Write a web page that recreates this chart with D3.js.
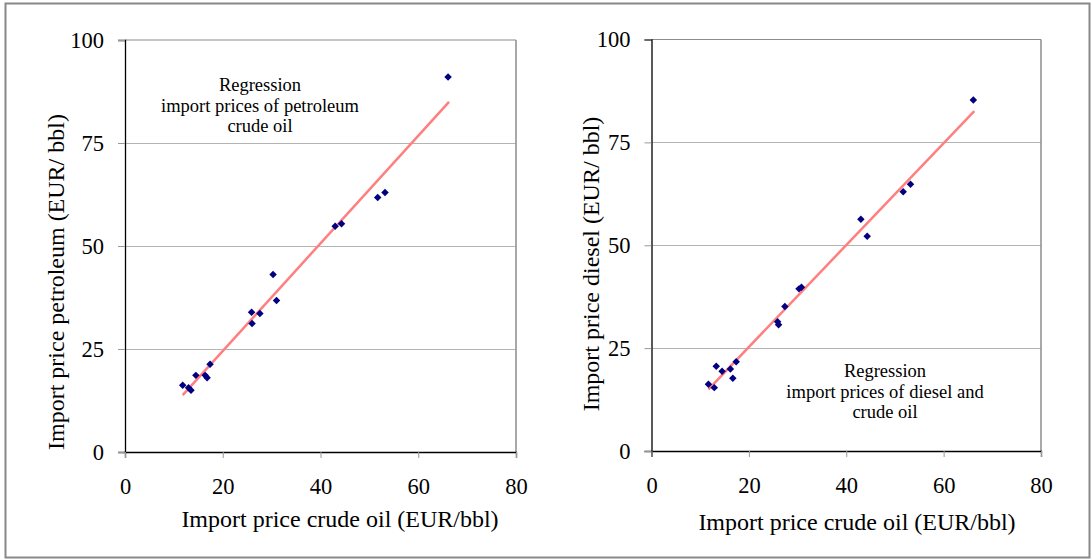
<!DOCTYPE html>
<html><head><meta charset="utf-8">
<script src="https://cdn.jsdelivr.net/npm/d3@7/dist/d3.min.js"></script>
<style>body{margin:0;background:#fff;} svg{display:block;} svg text{font-family:"Liberation Serif","Times New Roman",serif;fill:#000;}</style>
</head><body>
<svg id="c" width="1092" height="560"></svg>
<script>
// Data (EUR/bbl)
const crudeLeft  = [11.8, 13.0, 13.5, 14.5, 16.4, 16.8, 17.4, 25.9, 26.0, 27.6, 30.3, 31.0, 43.0, 44.3, 51.7, 53.2, 66.1];
const petroleum  = [16.2, 15.6, 15.0, 18.6, 18.6, 18.0, 21.3, 33.9, 31.2, 33.6, 43.1, 36.8, 54.8, 55.4, 61.8, 63.0, 91.0];
const crudeRight = [11.7, 12.9, 13.3, 14.5, 16.2, 16.7, 17.4, 25.9, 26.1, 27.4, 30.3, 30.8, 43.0, 44.3, 51.7, 53.2, 66.1];
const diesel     = [16.2, 15.4, 20.6, 19.4, 19.9, 17.7, 21.7, 31.4, 30.7, 35.1, 39.4, 39.8, 56.3, 52.2, 63.0, 64.8, 85.3];
const petroleumFitX = [11.8, 66.3];
const petroleumFitY = [13.8, 85.0];
const dieselFitX = [11.7, 66.3];
const dieselFitY = [15.0, 82.6];
const xTicks = [0, 20, 40, 60, 80];
const yTicks = [0, 25, 50, 75, 100];
const xTitle = "Import price crude oil (EUR/bbl)";
const yTitleLeft = "Import price petroleum (EUR/ bbl)";
const yTitleRight = "Import price diesel (EUR/ bbl)";
const noteLeft = ["Regression", "import prices of petroleum", "crude oil"];
const noteRight = ["Regression", "import prices of diesel and", "crude oil"];

const FONT = '"Liberation Serif","Times New Roman",serif';
const svg = d3.select("#c");
svg.append("rect").attr("x",5.5).attr("y",3.5).attr("width",1084).attr("height",554)
  .attr("fill","none").attr("stroke","#888").attr("stroke-width",2);

const panels = [
  {x0:125, x1:516, y0:452, y1:40, xs:crudeLeft, ys:petroleum, fx:petroleumFitX, fy:petroleumFitY,
   yTitle:yTitleLeft, yTitleX:56, yTitleY:282, xTitleX:340, xTitleY:527,
   note:noteLeft, noteX:260, noteY:91},
  {x0:651.5, x1:1041, y0:451, y1:39.5, xs:crudeRight, ys:diesel, fx:dieselFitX, fy:dieselFitY,
   yTitle:yTitleRight, yTitleX:591, yTitleY:264, xTitleX:857, xTitleY:530,
   note:noteRight, noteX:885, noteY:377}
];

panels.forEach(p => {
  const x = d3.scaleLinear().domain([0,80]).range([p.x0,p.x1]);
  const y = d3.scaleLinear().domain([0,100]).range([p.y0,p.y1]);
  const g = svg.append("g");
  g.selectAll("line.grid").data(yTicks.filter(t=>t>0 && t<100)).enter().append("line")
    .attr("x1",p.x0).attr("x2",p.x1).attr("y1",d=>Math.round(y(d))+0.5).attr("y2",d=>Math.round(y(d))+0.5)
    .attr("stroke","#b4b4b4").attr("stroke-width",1);
  g.append("line").attr("x1",p.x0).attr("x2",p.x1).attr("y1",p.y1).attr("y2",p.y1).attr("stroke","#8c8c8c").attr("stroke-width",1.2);
  g.append("line").attr("x1",p.x1).attr("x2",p.x1).attr("y1",p.y1).attr("y2",p.y0).attr("stroke","#8c8c8c").attr("stroke-width",1.5);
  const yAx = d3.axisLeft(y).tickValues(yTicks).tickSize(7).tickPadding(14).tickFormat(d3.format("d"));
  const xAx = d3.axisBottom(x).tickValues(xTicks).tickSize(6).tickPadding(20).tickFormat(d3.format("d"));
  const ya = g.append("g").attr("transform",`translate(${p.x0},0)`).call(yAx);
  const xa = g.append("g").attr("transform",`translate(0,${p.y0})`).call(xAx);
  [ya,xa].forEach(a => {
    a.attr("font-family", FONT).attr("font-size", 22.5);
    a.select(".domain").attr("stroke","#000").attr("stroke-width",1.3);
    a.selectAll(".tick line").attr("stroke","#999");
    a.selectAll(".tick text").attr("fill","#000");
  });
  g.append("text").attr("x",p.xTitleX).attr("y",p.xTitleY).attr("text-anchor","middle")
    .attr("font-family",FONT).attr("font-size",24).text(xTitle);
  g.append("text").attr("transform",`translate(${p.yTitleX},${p.yTitleY}) rotate(-90)`)
    .attr("text-anchor","middle").attr("dy","0.35em").attr("font-family",FONT).attr("font-size",24).text(p.yTitle);
  g.append("line").attr("x1",x(p.fx[0])).attr("y1",y(p.fy[0])).attr("x2",x(p.fx[1])).attr("y2",y(p.fy[1]))
    .attr("stroke","#ff7f7f").attr("stroke-width",2.5);
  const pts = p.xs.map((v,i)=>[v,p.ys[i]]);
  g.selectAll("path.pt").data(pts).enter().append("path")
    .attr("d", d3.symbol(d3.symbolSquare, 28))
    .attr("transform", d=>`translate(${x(d[0])},${y(d[1])}) rotate(45)`)
    .attr("fill","#000080");
  const t = g.append("text").attr("text-anchor","middle").attr("font-family",FONT).attr("font-size",18.5);
  p.note.forEach((s,i)=>t.append("tspan").attr("x",p.noteX).attr("y",p.noteY+i*20.7).text(s));
});
</script>
</body></html>
